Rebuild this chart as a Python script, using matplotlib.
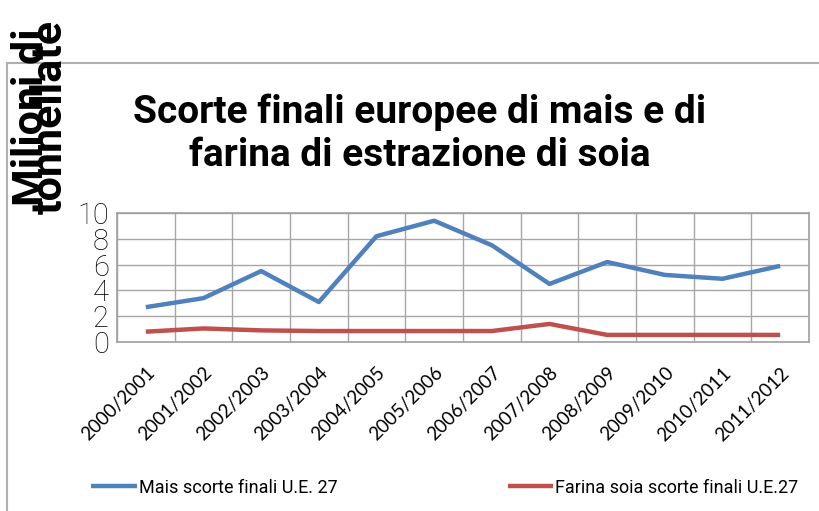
import matplotlib
matplotlib.use("Agg")
import numpy as np
from matplotlib import pyplot as plt
from matplotlib.lines import Line2D

# dati
stagioni = ["2000/2001", "2001/2002", "2002/2003", "2003/2004", "2004/2005", "2005/2006",
            "2006/2007", "2007/2008", "2008/2009", "2009/2010", "2010/2011", "2011/2012"]
mais = [2.7, 3.4, 5.5, 3.1, 8.2, 9.4, 7.5, 4.5, 6.2, 5.2, 4.9, 5.9]
soia = [0.8, 1.05, 0.9, 0.85, 0.85, 0.85, 0.85, 1.4, 0.55, 0.55, 0.55, 0.55]
nomi = ["Mais scorte finali U.E. 27", "Farina soia scorte finali U.E.27"]
titolo = "Scorte finali europee di mais e di\nfarina di estrazione di soia"
etichetta_y = "Milioni di\ntonnellate"

narrow = ["Roboto", "DejaVu Sans"]

fig = plt.figure(figsize=(8.2, 5.11), dpi=100)
ax = fig.add_axes([117 / 820, 1 - 342 / 511, (809 - 117) / 820, (342 - 213) / 511])

x = np.arange(len(stagioni))
ax.plot(x, mais, color="#4F81BD", lw=3.2, label=nomi[0], solid_capstyle="butt")
ax.plot(x, soia, color="#C0504D", lw=3.2, label=nomi[1], solid_capstyle="butt")

ax.set_xlim(-0.5, len(stagioni) - 0.5)
ax.set_ylim(0, 10)
ax.set_yticks([0, 2, 4, 6, 8, 10])
ax.set_yticklabels(["0", "2", "4", "6", "8", "10"], family=narrow, fontweight="light",
                   fontsize=21)
ax.set_xticks(x)
ax.set_xticklabels(stagioni, rotation=45, ha="right", rotation_mode="anchor",
                   family=["Lato", "DejaVu Sans"], fontsize=13.5)
ax.set_xticks(np.arange(-0.5, len(stagioni)), minor=True)
ax.tick_params(axis="x", which="both", length=0, pad=16)
ax.tick_params(axis="y", length=0, pad=6)
ax.grid(axis="y", color="#a6a6a6", lw=1)
ax.grid(axis="x", which="minor", color="#a6a6a6", lw=1)
ax.set_axisbelow(True)
for s in ax.spines.values():
    s.set_color("#a0a0a0")
    s.set_linewidth(1.2)

fig.text(420 / 820, 1 - 134 / 511, titolo, ha="center", va="center", family=narrow,
         fontweight="bold", fontsize=28, linespacing=1.2)
fig.text(41 / 820, 1 - 214 / 511, etichetta_y, rotation=90, ha="center", va="bottom",
         family=narrow, fontweight="bold", fontsize=31, linespacing=0.3)

ax.legend(loc="center", bbox_to_anchor=(0.474, -1.13), ncol=2, frameon=False,
          prop={"family": narrow, "size": 13}, handlelength=2.5, handletextpad=0.15,
          columnspacing=9.4)

# cornice esterna
fig.add_artist(Line2D([7 / 820, 1], [1 - 63 / 511, 1 - 63 / 511], color="#b0b0b0", lw=1.5))
fig.add_artist(Line2D([7 / 820, 7 / 820], [0, 1 - 63 / 511], color="#b0b0b0", lw=1.5))

fig.savefig("out.png", dpi=100)
